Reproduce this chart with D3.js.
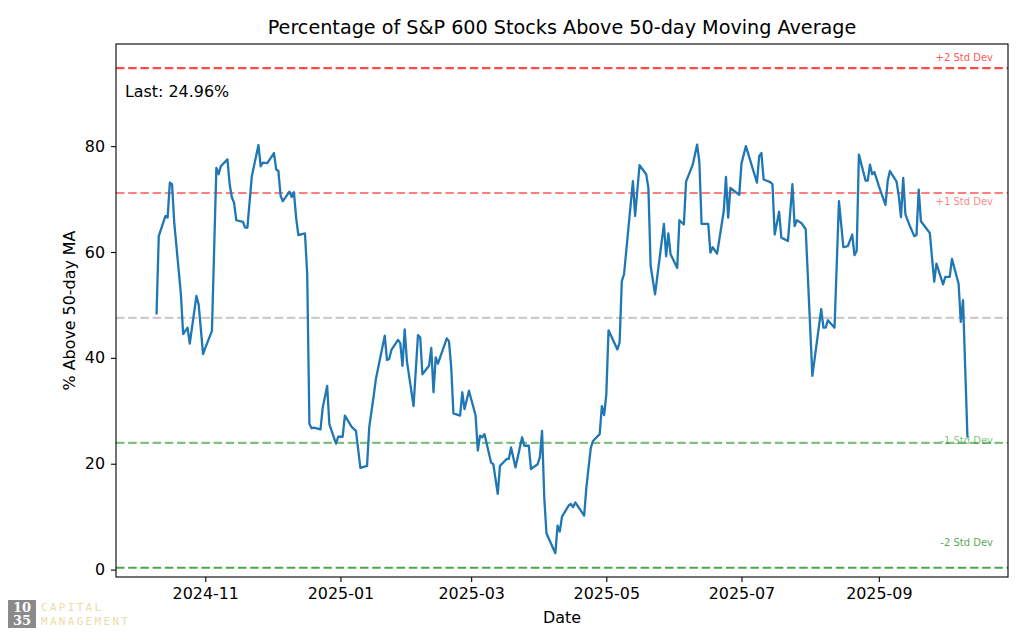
<!DOCTYPE html>
<html>
<head>
<meta charset="utf-8">
<script src="https://cdn.jsdelivr.net/npm/d3@7"></script>
<style>
    body { margin: 0; background: #fff; }
    text { font-family: 'DejaVu Sans', sans-serif; }
</style>
</head>
<body>
<div id="chart"></div>
<script>
'use strict';

// values
let dates = [
    '2024-10-10', '2024-10-11', '2024-10-14', '2024-10-15', '2024-10-16', '2024-10-17', '2024-10-18', '2024-10-21',
    '2024-10-22', '2024-10-24', '2024-10-25', '2024-10-28', '2024-10-29', '2024-10-31', '2024-11-01', '2024-11-04',
    '2024-11-06', '2024-11-07', '2024-11-08', '2024-11-11', '2024-11-12', '2024-11-13', '2024-11-14', '2024-11-15',
    '2024-11-18', '2024-11-19', '2024-11-20', '2024-11-22', '2024-11-25', '2024-11-26', '2024-11-27', '2024-11-29',
    '2024-12-02', '2024-12-03', '2024-12-04', '2024-12-05', '2024-12-06', '2024-12-09', '2024-12-10', '2024-12-11',
    '2024-12-12', '2024-12-13', '2024-12-16', '2024-12-17', '2024-12-18', '2024-12-19', '2024-12-20', '2024-12-23',
    '2024-12-24', '2024-12-26', '2024-12-27', '2024-12-30', '2024-12-31', '2025-01-02', '2025-01-03', '2025-01-06',
    '2025-01-07', '2025-01-08', '2025-01-10', '2025-01-13', '2025-01-14', '2025-01-16', '2025-01-17', '2025-01-21',
    '2025-01-22', '2025-01-23', '2025-01-24', '2025-01-27', '2025-01-28', '2025-01-29', '2025-01-30', '2025-01-31',
    '2025-02-03', '2025-02-05', '2025-02-06', '2025-02-07', '2025-02-10', '2025-02-11', '2025-02-12', '2025-02-13',
    '2025-02-14', '2025-02-18', '2025-02-19', '2025-02-20', '2025-02-21', '2025-02-24', '2025-02-25', '2025-02-26',
    '2025-02-28', '2025-03-03', '2025-03-04', '2025-03-05', '2025-03-06', '2025-03-07', '2025-03-10', '2025-03-11',
    '2025-03-13', '2025-03-14', '2025-03-17', '2025-03-18', '2025-03-19', '2025-03-21', '2025-03-24', '2025-03-25',
    '2025-03-27', '2025-03-28', '2025-03-31', '2025-04-01', '2025-04-02', '2025-04-03', '2025-04-04', '2025-04-08',
    '2025-04-09', '2025-04-10', '2025-04-11', '2025-04-14', '2025-04-15', '2025-04-16', '2025-04-17', '2025-04-21',
    '2025-04-22', '2025-04-23', '2025-04-24', '2025-04-25', '2025-04-28', '2025-04-29', '2025-04-30', '2025-05-01',
    '2025-05-02', '2025-05-06', '2025-05-07', '2025-05-08', '2025-05-09', '2025-05-13', '2025-05-14', '2025-05-16',
    '2025-05-19', '2025-05-20', '2025-05-21', '2025-05-23', '2025-05-27', '2025-05-28', '2025-05-29', '2025-05-30',
    '2025-06-02', '2025-06-03', '2025-06-05', '2025-06-06', '2025-06-09', '2025-06-11', '2025-06-12', '2025-06-13',
    '2025-06-16', '2025-06-17', '2025-06-18', '2025-06-20', '2025-06-23', '2025-06-24', '2025-06-25', '2025-06-26',
    '2025-06-30', '2025-07-01', '2025-07-03', '2025-07-08', '2025-07-09', '2025-07-10', '2025-07-11', '2025-07-14',
    '2025-07-15', '2025-07-16', '2025-07-18', '2025-07-19', '2025-07-22', '2025-07-24', '2025-07-25', '2025-07-26',
    '2025-07-28', '2025-07-30', '2025-08-02', '2025-08-06', '2025-08-07', '2025-08-08', '2025-08-09', '2025-08-12',
    '2025-08-14', '2025-08-16', '2025-08-18', '2025-08-20', '2025-08-21', '2025-08-22', '2025-08-23', '2025-08-26',
    '2025-08-27', '2025-08-28', '2025-08-29', '2025-08-30', '2025-09-01', '2025-09-04', '2025-09-05', '2025-09-06',
    '2025-09-09', '2025-09-10', '2025-09-11', '2025-09-12', '2025-09-13', '2025-09-15', '2025-09-17', '2025-09-18',
    '2025-09-19', '2025-09-20', '2025-09-24', '2025-09-26', '2025-09-27', '2025-09-30', '2025-10-01', '2025-10-03',
    '2025-10-04', '2025-10-07', '2025-10-08', '2025-10-09', '2025-10-11'
];

let pctAbove = [
    48.2, 63.0, 66.8, 66.5, 73.1, 72.8, 65.5, 52.0,
    44.5, 45.7, 42.7, 51.7, 50.1, 40.7, 41.9, 45.1,
    75.9, 74.7, 76.2, 77.5, 72.8, 70.3, 69.3, 66.0,
    65.7, 64.6, 64.6, 74.3, 80.2, 76.2, 76.9, 76.8,
    78.7, 75.6, 75.3, 70.6, 69.6, 71.4, 70.4, 71.3,
    66.5, 63.2, 63.5, 55.8, 27.5, 26.7, 26.8, 26.5,
    30.6, 34.7, 27.5, 23.8, 25.1, 25.1, 29.1, 27.0,
    26.6, 26.2, 19.2, 19.6, 26.9, 32.8, 36.0, 44.2,
    39.6, 39.8, 41.5, 43.4, 42.8, 38.5, 45.4, 39.4,
    30.9, 44.3, 43.9, 36.9, 38.5, 41.9, 33.5, 40.1,
    38.9, 43.7, 43.1, 38.2, 29.5, 29.1, 33.5, 30.3,
    33.8, 29.1, 22.5, 25.3, 25.0, 25.6, 20.2, 19.9,
    14.3, 19.6, 20.9, 20.9, 23.1, 19.3, 25.0, 23.4,
    23.4, 19.0, 19.9, 21.2, 26.2, 13.6, 6.8, 3.1,
    8.3, 7.2, 10.0, 12.1, 12.4, 11.8, 12.7, 10.2,
    15.5, 19.3, 23.0, 24.3, 25.6, 30.9, 29.2, 33.1,
    45.2, 41.6, 42.9, 54.5, 55.8, 73.4, 66.8, 76.4,
    74.7, 72.1, 57.4, 52.0, 65.3, 59.2, 63.5, 59.6,
    57.0, 66.0, 65.2, 73.3, 76.5, 80.3, 77.0, 65.3,
    65.3, 59.9, 60.9, 59.7, 67.7, 74.2, 66.5, 72.1,
    70.8, 76.7, 80.0, 73.1, 78.1, 78.7, 73.7, 73.2,
    72.8, 63.3, 67.6, 62.7, 62.1, 72.8, 64.9, 66.0,
    65.5, 64.3, 36.6, 49.2, 45.7, 45.7, 47.1, 45.7,
    69.6, 60.9, 61.1, 63.3, 59.4, 60.2, 78.4, 73.5,
    73.5, 76.5, 74.7, 75.1, 72.5, 68.9, 73.4, 75.3,
    73.3, 70.6, 66.6, 74.0, 67.1, 64.9, 63.0, 63.2,
    71.8, 65.8, 63.6, 54.4, 57.8, 53.9, 55.3, 55.3,
    58.7, 54.0, 46.8, 50.9, 24.96
];

// mean / std dev bands
let meanValue = 47.55;
let stdValue = 23.6;
let bandMultipliers = [2, 1, 0, -1, -2];
let bandLabels = ['+2 Std Dev', '+1 Std Dev', '', '-1 Std Dev', '-2 Std Dev'];
let bandColors = ['red', 'red', 'gray', 'green', 'green'];
let bandOpacity = [0.7, 0.5, 0.4, 0.5, 0.7];
// label offset in px from its line (positive = below)
let bandLabelDy = [-7, 12, 0, 1, -22];

let xTickDates = ['2024-11-01', '2025-01-01', '2025-03-01', '2025-05-01', '2025-07-01', '2025-09-01'];
let yTickValues = [0, 20, 40, 60, 80];

let width = 1020,
    height = 640;
let margin = {top: 44, right: 12, bottom: 63, left: 116};
let fontSize = 15.9;

let parseDate = d3.timeParse('%Y-%m-%d');
let series = dates.map(function(d, i) {
    return {date: parseDate(d), value: pctAbove[i]};
});

let svg = d3.select('#chart')
    .append('svg')
    .attr('width', width)
    .attr('height', height);

// 5% padding on the date range, like matplotlib
let extent = d3.extent(series, function(d) {
    return d.date;
});
let pad = (extent[1] - extent[0]) * 0.05;
let x = d3.scaleTime()
    .domain([new Date(+extent[0] - pad), new Date(+extent[1] + pad)])
    .range([margin.left, width - margin.right]);
let y = d3.scaleLinear()
    .domain([-1.4, 99.3])
    .range([height - margin.bottom, margin.top]);

// bands
let bands = svg.append('g');
bandMultipliers.forEach(function(m, i) {
    let level = meanValue + m * stdValue;
    bands.append('line')
        .attr('x1', margin.left)
        .attr('x2', width - margin.right)
        .attr('y1', y(level))
        .attr('y2', y(level))
        .attr('stroke', bandColors[i])
        .attr('stroke-opacity', bandOpacity[i])
        .attr('stroke-width', 2.2)
        .attr('stroke-dasharray', '8.5,3.7');
    if (bandLabels[i]) {
        bands.append('text')
            .attr('x', 993)
            .attr('y', y(level) + bandLabelDy[i])
            .attr('text-anchor', 'end')
            .attr('font-size', 10)
            .attr('fill', bandColors[i])
            .attr('fill-opacity', bandOpacity[i])
            .text(bandLabels[i]);
    }
});

// main line
let line = d3.line()
    .x(function(d) {
        return x(d.date);
    })
    .y(function(d) {
        return y(d.value);
    });
svg.append('path')
    .datum(series)
    .attr('fill', 'none')
    .attr('stroke', '#1f77b4')
    .attr('stroke-width', 2.3)
    .attr('stroke-linejoin', 'round')
    .attr('d', line);

// axes
let xAxis = svg.append('g')
    .attr('transform', 'translate(0,' + (height - margin.bottom) + ')')
    .call(d3.axisBottom(x)
        .tickValues(xTickDates.map(parseDate))
        .tickFormat(d3.timeFormat('%Y-%m'))
        .tickSize(5)
        .tickPadding(6));
let yAxis = svg.append('g')
    .attr('transform', 'translate(' + margin.left + ',0)')
    .call(d3.axisLeft(y)
        .tickValues(yTickValues)
        .tickSize(5)
        .tickPadding(6));
[xAxis, yAxis].forEach(function(a) {
    a.select('.domain').remove();
    a.selectAll('text')
        .attr('font-size', fontSize)
        .attr('fill', '#000')
        .style('font-family', "'DejaVu Sans', sans-serif");
    a.selectAll('line').attr('stroke', '#000').attr('stroke-width', 1.1);
});

// frame
svg.append('rect')
    .attr('x', margin.left)
    .attr('y', margin.top)
    .attr('width', width - margin.left - margin.right)
    .attr('height', height - margin.top - margin.bottom)
    .attr('fill', 'none')
    .attr('stroke', '#000')
    .attr('stroke-width', 1.1);

// titles
svg.append('text')
    .attr('x', (margin.left + width - margin.right) / 2)
    .attr('y', 34)
    .attr('text-anchor', 'middle')
    .attr('font-size', 19.2)
    .text('Percentage of S&P 600 Stocks Above 50-day Moving Average');
svg.append('text')
    .attr('x', (margin.left + width - margin.right) / 2)
    .attr('y', 623)
    .attr('text-anchor', 'middle')
    .attr('font-size', fontSize)
    .text('Date');
svg.append('text')
    .attr('transform', 'translate(75,' + ((margin.top + height - margin.bottom) / 2) + ') rotate(-90)')
    .attr('text-anchor', 'middle')
    .attr('font-size', fontSize)
    .text('% Above 50-day MA');

let last = series[series.length - 1];
svg.append('text')
    .attr('x', 125)
    .attr('y', 97)
    .attr('font-size', fontSize)
    .text('Last: ' + last.value.toFixed(2) + '%');

// logo, bottom left
let logo = svg.append('g').attr('transform', 'translate(8,600)');
logo.append('rect')
    .attr('width', 28)
    .attr('height', 28)
    .attr('fill', '#8a8a8a');
logo.selectAll('text.num')
    .data(['10', '35'])
    .enter().append('text')
    .attr('x', 14)
    .attr('y', function(d, i) {
        return 12 + i * 13;
    })
    .attr('text-anchor', 'middle')
    .attr('font-size', 13)
    .attr('font-weight', 'bold')
    .attr('fill', '#fff')
    .style('font-family', "'DejaVu Serif', serif")
    .text(function(d) {
        return d;
    });
logo.selectAll('text.word')
    .data(['CAPITAL', 'MANAGEMENT'])
    .enter().append('text')
    .attr('x', 33)
    .attr('y', function(d, i) {
        return 11 + i * 14;
    })
    .attr('font-size', 11)
    .attr('letter-spacing', 2.3)
    .attr('fill', '#ecdcaa')
    .style('font-family', "'DejaVu Sans Mono', monospace")
    .text(function(d) {
        return d;
    });
</script>
</body>
</html>
